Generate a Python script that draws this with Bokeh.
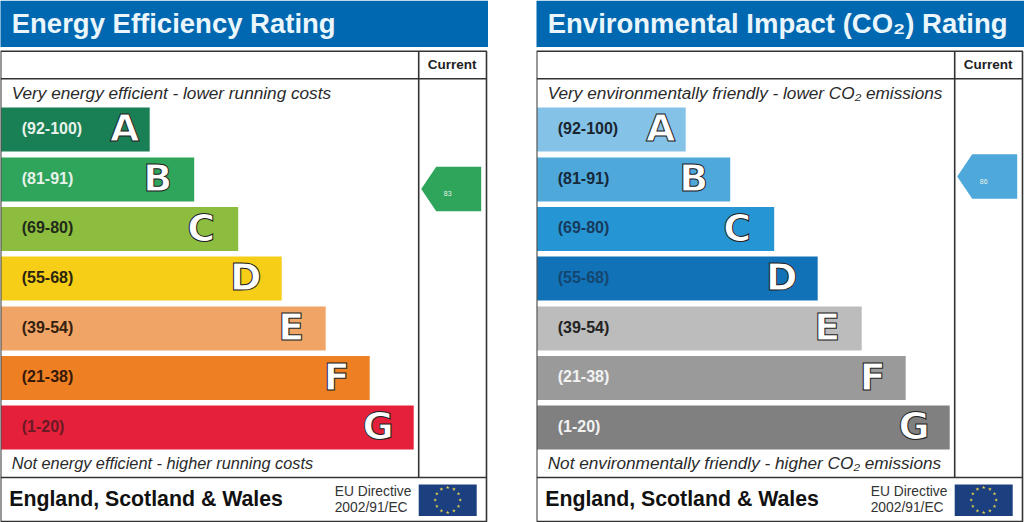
import numpy as np
from bokeh.core.properties import value
from bokeh.embed import file_html
from bokeh.layouts import row
from bokeh.models import ColumnDataSource, Range1d
from bokeh.plotting import figure
from bokeh.resources import INLINE

letters = ["A", "B", "C", "D", "E", "F", "G"]
ranges = ["(92-100)", "(81-91)", "(69-80)", "(55-68)", "(39-54)", "(21-38)", "(1-20)"]
band_length = [150, 194.5, 238.5, 282, 326, 370, 414]
band_centre = [129, 179, 228.5, 278, 328, 377.5, 427]
letter_x = [125, 158, 201.5, 246, 291.5, 337, 378.5]

energy_colors = ["#197f54", "#2fa45b", "#8dbd3f", "#f6cd17", "#f0a566", "#ee7f23", "#e5203a"]
energy_label_colors = ["#e6f2ea", "#e6f2ea", "#1f2a1a", "#2a2510", "#35200f", "#35190a", "#6a1a25"]
co2_colors = ["#85c2e8", "#4ea8da", "#2596d3", "#1272b8", "#bbbcbb", "#9a9a9a", "#808080"]
co2_label_colors = ["#1a2530", "#16283a", "#173a5c", "#14466f", "#222222", "#f2f2f2", "#f2f2f2"]

energy_title = "Energy Efficiency Rating"
co2_title = "Environmental Impact (CO₂) Rating"
energy_top = "Very energy efficient - lower running costs"
energy_bottom = "Not energy efficient - higher running costs"
co2_top = "Very environmentally friendly - lower CO₂ emissions"
co2_bottom = "Not environmentally friendly - higher CO₂ emissions"
footer = "England, Scotland & Wales"
directive = ["EU Directive", "2002/91/EC"]

energy_current = 83
co2_current = 86
energy_arrow_y = 188.5
co2_arrow_y = 176

FONT = value("Liberation Sans")
INK = "#333333"


def label(p, x, y, text, size, color, style="normal", align="left"):
    p.text([x], [y], text=[text], text_font=FONT, text_font_size=f"{size}px",
           text_font_style=style, text_color=color, text_align=align,
           text_baseline="middle")


def panel(title, top, top_size, bottom, bottom_size, colors, label_colors, current, arrow_y, arrow_color):
    p = figure(width=488, height=522, output_backend="svg", toolbar_location=None,
               x_range=Range1d(0.8, 488.8), y_range=Range1d(522, 0),
               min_border=0, outline_line_color=None, background_fill_color="white")
    p.xaxis.visible = False
    p.yaxis.visible = False
    p.grid.visible = False

    p.quad(left=0, right=489, top=0, bottom=46.5, fill_color="#0067b1", line_color=None)
    label(p, 12, 22.5, title, 27.5, "#eaf6fb", "bold")

    src = ColumnDataSource(dict(y=band_centre, right=band_length, color=colors))
    p.hbar(y="y", left=1.5, right="right", height=44, fill_color="color", line_color=None, source=src)

    centre = np.array(band_centre) - 1.5
    p.text(x=[22] * 7, y=centre, text=ranges, text_color=label_colors, text_font=FONT,
           text_font_size="16px", text_font_style="bold", text_baseline="middle")
    p.text(x=letter_x, y=centre, text=letters, text_color="white", text_font=value("DejaVu Sans"),
           text_font_size="38px", text_font_style="bold", text_align="center",
           text_baseline="middle", text_outline_color="#222222")

    label(p, 12, 92, top, top_size, "#2a2a2a", "italic")
    label(p, 12, 462.5, bottom, bottom_size, "#2a2a2a", "italic")
    label(p, 452.5, 64, "Current", 13.5, "#222222", "bold", "center")

    # frame and rules
    p.quad(left=1, right=486.8, top=50.7, bottom=521, fill_color=None, line_color=INK, line_width=1.6)
    p.segment(x0=[1, 419, 1], x1=[486.8, 419, 486.8], y0=[78.3, 50.7, 477],
              y1=[78.3, 477, 477], line_color=INK, line_width=1.6)

    # current-rating arrow
    h = 22.2
    p.patch(x=[421.5, 436.5, 481.5, 481.5, 436.5], y=[arrow_y, arrow_y - h, arrow_y - h, arrow_y + h, arrow_y + h],
            fill_color=arrow_color, line_color=None)
    label(p, 448, arrow_y + 4.5, str(current), 7, "#e6f2ea", "normal", "center")

    # footer
    label(p, 9.5, 498, footer, 21.3, "#111111", "bold")
    label(p, 335, 491, directive[0], 13.8, "#333333")
    label(p, 335, 507, directive[1], 13.8, "#333333")
    p.quad(left=419, right=477, top=484, bottom=515.5, fill_color="#1c3f80", line_color=None)
    ang = np.arange(12) * np.pi / 6
    p.scatter(x=448 + 12.5 * np.sin(ang), y=499.5 - 12.5 * np.cos(ang), marker="star", size=4,
              fill_color="#e8d24a", line_color=None)
    return p


left = panel(energy_title, energy_top, 17.2, energy_bottom, 16.3, energy_colors, energy_label_colors,
             energy_current, energy_arrow_y, "#2fa45b")
right = panel(co2_title, co2_top, 17.2, co2_bottom, 17.2, co2_colors, co2_label_colors,
              co2_current, co2_arrow_y, "#4ea8da")

layout = row(left, right, spacing=48, margin=(0, 0, 0, 0))
open("out.html", "w").write(file_html(layout, INLINE))
